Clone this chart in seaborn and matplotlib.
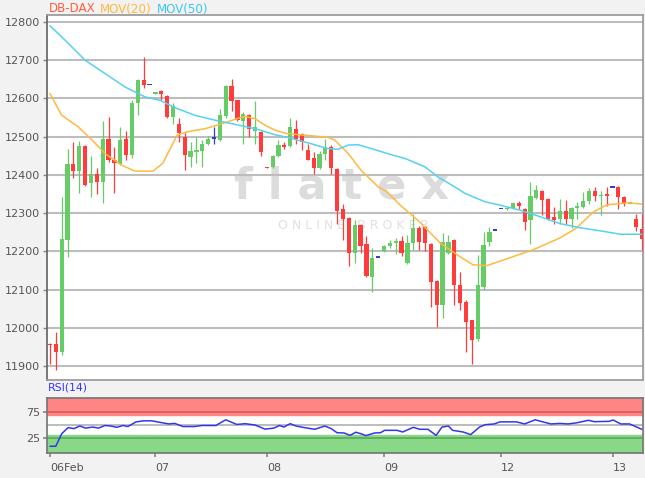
import matplotlib
matplotlib.use("Agg")
import matplotlib.pyplot as plt
import seaborn as sns
import pandas as pd
import numpy as np

# candle data (one candle per bar)
opens = [11958, 11958, 11936, 12230, 12428, 12411, 12475, 12378, 12402, 12382,
         12493, 12440, 12428, 12493, 12452, 12588, 12648, 12634, 12612, 12620,
         12606, 12552, 12534, 12498, 12448, 12460, 12462, 12480, 12495, 12490,
         12553, 12632, 12595, 12541, 12557, 12515, 12512, 12420, 12420, 12450,
         12478, 12475, 12521, 12508, 12465, 12445, 12417, 12456, 12473, 12415,
         12310, 12288, 12196, 12268, 12219, 12134, 12184, 12200, 12214, 12222,
         12226, 12170, 12222, 12260, 12263, 12219, 12123, 12060, 12196, 12230,
         12113, 12069, 12020, 11970, 12107, 12225, 12254, 12310, 12310, 12314,
         12326, 12310, 12281, 12341, 12358, 12336, 12290, 12284, 12306, 12284,
         12314, 12317, 12331, 12358, 12344, 12348, 12367, 12368, 12342, 12325,
         12286, 12259]
highs = [11960, 11990, 12343, 12469, 12486, 12489, 12478, 12450, 12417, 12540,
         12552, 12473, 12526, 12514, 12597, 12652, 12707, 12634, 12616, 12622,
         12608, 12587, 12550, 12510, 12486, 12498, 12491, 12501, 12524, 12573,
         12635, 12652, 12597, 12565, 12560, 12593, 12515, 12422, 12453, 12491,
         12487, 12550, 12543, 12510, 12482, 12460, 12463, 12495, 12478, 12418,
         12325, 12290, 12282, 12270, 12240, 12209, 12184, 12216, 12230, 12234,
         12240, 12242, 12299, 12266, 12266, 12222, 12125, 12247, 12242, 12232,
         12146, 12072, 12022, 12190, 12251, 12264, 12254, 12310, 12317, 12330,
         12332, 12313, 12382, 12373, 12360, 12340, 12316, 12336, 12335, 12316,
         12330, 12356, 12366, 12369, 12358, 12369, 12367, 12372, 12344, 12329,
         12299, 12299]
lows = [11907, 11890, 11930, 12186, 12393, 12353, 12370, 12343, 12350, 12327,
        12435, 12353, 12425, 12440, 12445, 12556, 12626, 12634, 12612, 12595,
        12550, 12534, 12486, 12412, 12421, 12430, 12421, 12478, 12480, 12488,
        12550, 12566, 12540, 12480, 12500, 12482, 12449, 12417, 12418, 12446,
        12467, 12473, 12482, 12465, 12438, 12402, 12415, 12440, 12402, 12271,
        12229, 12161, 12170, 12195, 12133, 12094, 12184, 12198, 12210, 12194,
        12188, 12168, 12203, 12205, 12200, 12055, 12003, 12025, 12194, 12060,
        12046, 11938, 11905, 11965, 12100, 12215, 12254, 12310, 12308, 12312,
        12312, 12255, 12219, 12338, 12295, 12281, 12271, 12271, 12271, 12260,
        12284, 12314, 12325, 12331, 12295, 12320, 12367, 12310, 12320, 12323,
        12254, 12204]
closes = [11955, 11936, 12232, 12428, 12411, 12475, 12373, 12402, 12382, 12493,
          12440, 12430, 12491, 12453, 12588, 12648, 12636, 12634, 12616, 12611,
          12552, 12580, 12510, 12452, 12462, 12463, 12482, 12495, 12495, 12556,
          12632, 12593, 12544, 12559, 12521, 12525, 12460, 12417, 12450, 12478,
          12474, 12524, 12495, 12486, 12440, 12417, 12456, 12473, 12417, 12306,
          12286, 12196, 12268, 12214, 12135, 12184, 12184, 12214, 12221, 12228,
          12196, 12222, 12260, 12225, 12221, 12120, 12060, 12225, 12225, 12111,
          12066, 12016, 11968, 12111, 12216, 12251, 12254, 12310, 12314, 12327,
          12319, 12277, 12344, 12360, 12334, 12286, 12281, 12306, 12284, 12314,
          12317, 12331, 12358, 12345, 12347, 12346, 12367, 12342, 12325, 12327,
          12264, 12232]

# moving averages (bar position, value)
ma20_idx = [0, 2.0, 4.8, 7.2, 9.4, 12.3, 14.5, 17.6, 19.3, 20.1, 21.7, 23.5,
            26.5, 29.4, 31.9, 33.3, 35, 36.7, 38.4, 40.4, 45.5, 47.3, 48.6,
            50.9, 53.1, 56, 57.5, 59.7, 63.1, 66.6, 70, 72.2, 74.6, 78, 82.4,
            87, 89.9, 92.7, 95.1, 98.5, 101]
ma20_val = [12613, 12556, 12526, 12491, 12456, 12425, 12410, 12410, 12431, 12456,
            12504, 12513, 12521, 12534, 12547, 12553, 12547, 12530, 12517, 12508,
            12501, 12499, 12491, 12456, 12412, 12369, 12356, 12322, 12277, 12222,
            12186, 12165, 12163, 12181, 12204, 12235, 12262, 12303, 12322, 12327,
            12324]
ma50_idx = [0, 2.6, 6, 9.4, 12.8, 16.2, 18.8, 21.3, 24.7, 28.2, 31.6, 35, 38.4,
            40.6, 44, 47.4, 49.1, 50.9, 52.6, 54.8, 58, 60.6, 64, 66.2, 68.6,
            70.8, 74.2, 76.8, 80.2, 83.6, 87, 90.4, 93.9, 97.3, 101]
ma50_val = [12790, 12752, 12700, 12665, 12630, 12604, 12595, 12576, 12556, 12543,
            12532, 12521, 12505, 12498, 12484, 12469, 12467, 12478, 12479, 12469,
            12454, 12443, 12421, 12395, 12373, 12352, 12330, 12321, 12308, 12291,
            12273, 12262, 12254, 12245, 12245]

# RSI(14)
rsi_idx = [0, 1, 2, 3.1, 4.1, 5.1, 6.1, 7.3, 8.3, 9.4, 10.4, 11.4, 12.5, 13.3,
           14.7, 16, 17.4, 18.8, 20.3, 21.3, 22.7, 24.7, 25.9, 28.3, 30, 31.9,
           33.3, 35, 36.7, 38.2, 39.2, 39.9, 41, 42, 43.4, 45.2, 46.9, 48, 49,
           50.2, 51.2, 52.2, 53.2, 53.9, 55.4, 56.4, 57.1, 59.2, 60.2, 62, 63.1,
           64.5, 65.9, 66.9, 68, 68.7, 70.5, 71.8, 73.3, 74.3, 75.8, 76.8, 79.6,
           81, 82.8, 84.1, 85.5, 87, 88.4, 89.8, 91.9, 92.9, 95.4, 96.1, 97.4,
           98.9, 101]
rsi_val = [9, 9, 33, 45, 43, 48, 44, 46, 44, 49, 48, 45.5, 49, 47, 56, 58, 58,
           55, 52, 53, 47, 47, 49, 49, 60, 51, 52.5, 50, 42, 44, 49, 46, 52.5,
           48, 45, 41.7, 48, 43, 35, 34.6, 30, 36, 32.7, 29.5, 34.6, 35, 39.7,
           39.7, 36.5, 45.5, 41.7, 41.7, 30, 46, 48, 39.7, 36.5, 31.4, 46, 50.6,
           52, 56, 56, 52, 60, 56, 52, 53, 52, 54, 59, 56.4, 57, 59.6, 52, 52,
           41.7]

day_labels = ["06Feb", "07", "08", "09", "12", "13"]
day_start = [0, 18, 37, 57, 77, 96]
price_ticks = list(range(11900, 12801, 100))
rsi_ticks = [25, 75]

GREEN = "#66cc66"
RED = "#ff3b3b"
BLUE = "#3a3ad0"
ORANGE = "#ffb940"
CYAN = "#55d2f0"
TXT = "#555555"

sns.set_theme(style="white")
plt.rcParams['font.family'] = ['DejaVu Sans']

W, H = 645, 478
fig = plt.figure(figsize=(6.45, 4.78), dpi=100, facecolor="#f2f2f2")
ax = fig.add_axes([47 / W, 98 / H, 596 / W, 365 / H])
ax_rsi = fig.add_axes([47 / W, 25 / H, 596 / W, 55 / H])

df = pd.DataFrame({"o": opens, "h": highs, "l": lows, "c": closes})
df["i"] = np.arange(len(df))
df["col"] = np.where(df.c > df.o, GREEN, np.where(df.c < df.o, RED, BLUE))

# watermark
ax.text(0.495, 0.53, "f l a t e x", transform=ax.transAxes, fontsize=31,
        fontweight="bold", color="#dcdcdc", ha="center", va="center", zorder=0)
ax.text(0.515, 0.422, "O N L I N E   B R O K E R", transform=ax.transAxes,
        fontsize=9, color="#e0e0e0", ha="center", va="center", zorder=0)

# candles
ax.vlines(df.i, df.l, df.h, colors=df.col, linewidth=0.9, zorder=3)
body_lo = df[["o", "c"]].min(axis=1)
body_h = (df.c - df.o).abs().clip(lower=4)
ax.bar(df.i, body_h, bottom=body_lo, width=0.72, color=df.col, linewidth=0, zorder=4)

sns.lineplot(x=ma20_idx, y=ma20_val, ax=ax, color=ORANGE, linewidth=1.1, zorder=5)
sns.lineplot(x=ma50_idx, y=ma50_val, ax=ax, color=CYAN, linewidth=1.1, zorder=5)

ax.set_xlim(-0.5, 101.2)
ax.set_ylim(11864, 12818)
ax.set_yticks(price_ticks)
ax.set_xticks([])
ax.grid(axis="y", color="#bdbdbd", linewidth=1.5)
ax.set_axisbelow(True)
ax.tick_params(axis="y", left=True, direction="out", length=3, width=1,
               color="#888888", labelsize=8, labelcolor=TXT, pad=2)
for s in ax.spines.values():
    s.set_color("#999999")
ax.spines["left"].set_color("#666666")
ax.set_xlabel("")
ax.set_ylabel("")

# RSI panel
ax_rsi.axhspan(70, 102, color="#ff8585", zorder=1)
ax_rsi.axhspan(-4, 30, color="#88d888", zorder=1)
ax_rsi.axhline(75, color="#d35a5a", linewidth=1.2, zorder=2)
ax_rsi.axhline(25, color="#5aaa5a", linewidth=1.2, zorder=2)
ax_rsi.axhline(50, color="#b0b0b0", linewidth=1.2, zorder=2)
sns.lineplot(x=rsi_idx, y=rsi_val, ax=ax_rsi, color="#3535ee", linewidth=1.1, zorder=5)
ax_rsi.set_xlim(-0.5, 101.2)
ax_rsi.set_ylim(-4, 102)
ax_rsi.set_yticks(rsi_ticks)
ax_rsi.set_xticks(day_start)
ax_rsi.set_xticklabels(day_labels, ha="left")
ax_rsi.tick_params(axis="both", bottom=True, left=True, direction="out", length=3,
                   color="#888888", labelsize=8, labelcolor=TXT, pad=2)
ax_rsi.tick_params(axis="x", pad=4)
for s in ax_rsi.spines.values():
    s.set_color("#777777")
ax_rsi.set_xlabel("")
ax_rsi.set_ylabel("")

# header texts
fig.text(49 / W, 1 - 9 / H, "DB-DAX", color="#ff5e40", fontsize=8.6, va="center")
fig.text(100 / W, 1 - 9 / H, "MOV(20)", color=ORANGE, fontsize=8.6, va="center")
fig.text(157 / W, 1 - 9 / H, "MOV(50)", color="#3cc8ee", fontsize=8.6, va="center")
fig.text(48 / W, 1 - 388 / H, "RSI(14)", color="#3333ff", fontsize=7.8, va="center")

fig.savefig("out.png", dpi=100, facecolor=fig.get_facecolor())
